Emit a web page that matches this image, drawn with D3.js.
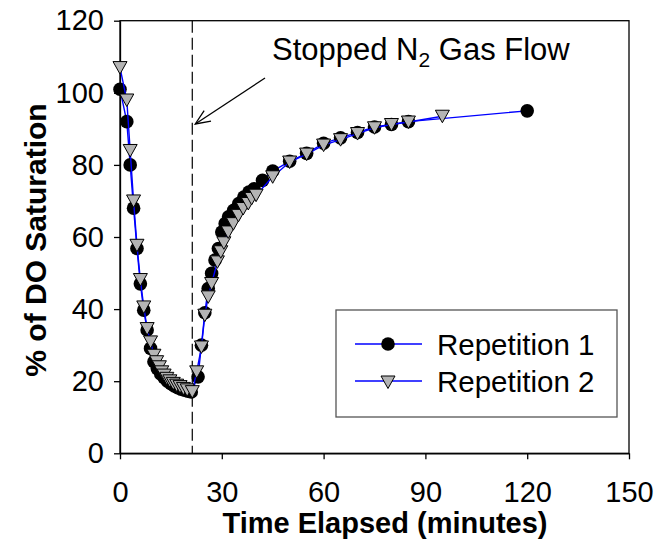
<!DOCTYPE html>
<html>
<head>
<meta charset="utf-8">
<script src="https://cdn.jsdelivr.net/npm/d3@7"></script>
<style>
  body { margin:0; background:#fff; }
  text { font-family: Arial, "Liberation Sans", sans-serif; }
</style>
</head>
<body>
<svg></svg>
<script>
// Repetition 1 (circles)
var rep1Time = [0,2,3,4,5,6,7,8,9,10,11,12,13,14,15,16,17,18,19,20,21,
                23,24,25,26,27,28,29,30,31,32,33.5,35,36.5,38,39.5,42,45,50,55,60,65,70,75,80,85,120];
var rep1Value = [101,92,80,68,56.8,47,39.7,34.2,29.1,25.4,23.5,22,21,20,19.3,18.7,18.2,17.8,17.5,17.2,17,
                 21.2,30,39,45.7,49.9,53.6,56.8,61.4,63.7,65.6,67.4,69.3,71.1,72.5,73.4,75.7,78.3,81,83.2,86,87.5,89,90.5,91.2,92,95];

// Repetition 2 (triangles)
var rep2Time = [0,2,3,4,5,6,7,8,9,10,10.8,11.6,12.3,13,13.8,14.7,15.7,16.7,17.7,18.7,19.8,21.3,
                22.6,24,25,26,27,28.7,29.7,30.6,31.9,33.4,34.9,36.3,37.8,38.8,40.1,45,50,55,60,65,70,75,80,85,95];
var rep2Value = [107,98,84,70,57.7,48.2,40.6,34.6,30.9,27.2,25.4,24,22.6,21.7,20.8,20.1,19.4,18.9,18.5,18,17.6,17.1,
                 22.6,29.5,38.3,43.4,47.1,53.1,55.9,58.4,61.4,63.7,66,67.9,69.3,70.7,71.6,76.7,80.8,83,85.5,87,88.7,90.3,91.2,91.9,93.5];

var xTicks = [0,30,60,90,120,150];
var yTicks = [0,20,40,60,80,100,120];
var stopTime = 21.3;
var seriesNames = ["Repetition 1","Repetition 2"];

var screen = {width:658, height:554};
var margins = {top:20.7, left:120, right:29, bottom:100.7};
var width = screen.width - margins.left - margins.right;
var height = screen.height - margins.top - margins.bottom;

var svg = d3.select("svg")
            .attr("width",screen.width)
            .attr("height",screen.height);

var rep1 = rep1Time.map(function(t,i){ return {t:t, v:rep1Value[i]}; });
var rep2 = rep2Time.map(function(t,i){ return {t:t, v:rep2Value[i]}; });

var xScale = d3.scaleLinear().domain([0,150]).range([0,width]);
var yScale = d3.scaleLinear().domain([0,120]).range([height,0]);

var plotLand = svg.append("g")
                  .attr("transform","translate("+margins.left+","+margins.top+")");

// frame
plotLand.append("rect")
  .attr("x",0).attr("y",0)
  .attr("width",width).attr("height",height)
  .attr("fill","none").attr("stroke","#000").attr("stroke-width",1.3);

// dashed line where gas flow stopped
plotLand.append("line")
  .attr("x1",xScale(stopTime)).attr("x2",xScale(stopTime))
  .attr("y1",0).attr("y2",height)
  .attr("stroke","#000").attr("stroke-width",1.2)
  .attr("stroke-dasharray","12,5");

var xAxis = d3.axisBottom(xScale).tickValues(xTicks).tickSizeInner(6).tickSizeOuter(0).tickPadding(22);
var yAxis = d3.axisLeft(yScale).tickValues(yTicks).tickSizeInner(6).tickSizeOuter(0).tickPadding(10);

var styleAxis = function(g)
{
  g.select(".domain").attr("stroke-width",1.3);
  g.selectAll("line").attr("stroke-width",1.3);
  g.selectAll("text").attr("font-size",29).attr("fill","#000")
    .attr("font-family","Arial, 'Liberation Sans', sans-serif");
};

plotLand.append("g").attr("transform","translate(0,"+height+")").call(xAxis).call(styleAxis);
plotLand.append("g").call(yAxis).call(styleAxis);

var drawLine = d3.line()
  .x(function(d){ return xScale(d.t); })
  .y(function(d){ return yScale(d.v); });

var triangle = "M-7,-6L7,-6L0,6.5Z";

// repetition 1
plotLand.append("path").datum(rep1)
  .attr("d",drawLine).attr("fill","none")
  .attr("stroke","#0000ff").attr("stroke-width",1.4);
plotLand.append("g").selectAll("circle")
  .data(rep1).enter().append("circle")
  .attr("cx",function(d){ return xScale(d.t); })
  .attr("cy",function(d){ return yScale(d.v); })
  .attr("r",6.8).attr("fill","#000");

// repetition 2
plotLand.append("path").datum(rep2)
  .attr("d",drawLine).attr("fill","none")
  .attr("stroke","#0000ff").attr("stroke-width",1.4);
plotLand.append("g").selectAll("path")
  .data(rep2).enter().append("path")
  .attr("d",triangle)
  .attr("transform",function(d){ return "translate("+xScale(d.t)+","+yScale(d.v)+")"; })
  .attr("fill","#b4b4b4").attr("stroke","#000").attr("stroke-width",1);

// annotation
var ann = svg.append("text")
  .attr("x",272).attr("y",60)
  .attr("font-size",31).attr("fill","#000");
ann.append("tspan").text("Stopped N");
ann.append("tspan").attr("font-size",21).attr("dy",7).text("2");
ann.append("tspan").attr("dy",-7).text(" Gas Flow");

var ax0 = 265, ay0 = 78, ax1 = margins.left + xScale(stopTime) + 3, ay1 = 124;
var ang = Math.atan2(ay1-ay0, ax1-ax0);
svg.append("line")
  .attr("x1",ax0).attr("y1",ay0).attr("x2",ax1).attr("y2",ay1)
  .attr("stroke","#000").attr("stroke-width",1.3);
svg.append("path")
  .attr("d","M"+(ax1-16*Math.cos(ang-0.4))+","+(ay1-16*Math.sin(ang-0.4))
          +"L"+ax1+","+ay1
          +"L"+(ax1-16*Math.cos(ang+0.4))+","+(ay1-16*Math.sin(ang+0.4)))
  .attr("fill","none").attr("stroke","#000").attr("stroke-width",1.3);

// legend
var legend = svg.append("g").attr("transform","translate(336,310)");
legend.append("rect")
  .attr("width",281).attr("height",107)
  .attr("fill","#fff").attr("stroke","#555").attr("stroke-width",1.3);

var legendLines = legend.selectAll("g.legendLine")
  .data(seriesNames).enter().append("g")
  .classed("legendLine",true)
  .attr("transform",function(d,i){ return "translate(0,"+(34+i*37)+")"; });

legendLines.append("line")
  .attr("x1",19).attr("x2",86).attr("y1",0).attr("y2",0)
  .attr("stroke","#0000ff").attr("stroke-width",1.4);
legendLines.each(function(d,i){
  var g = d3.select(this);
  if(i==0){
    g.append("circle").attr("cx",52).attr("cy",0).attr("r",6.8).attr("fill","#000");
  } else {
    g.append("path").attr("d",triangle).attr("transform","translate(52,1)")
      .attr("fill","#b4b4b4").attr("stroke","#000").attr("stroke-width",1);
  }
});
legendLines.append("text")
  .attr("x",101).attr("y",10.5)
  .attr("font-size",29.5).attr("fill","#000")
  .text(function(d){ return d; });

// axis titles
svg.append("text")
  .attr("x",385).attr("y",533)
  .attr("text-anchor","middle")
  .attr("font-size",29).attr("font-weight","bold")
  .text("Time Elapsed (minutes)");

svg.append("text")
  .attr("transform","translate(46,240) rotate(-90)")
  .attr("text-anchor","middle")
  .attr("font-size",30).attr("font-weight","bold")
  .text("% of DO Saturation");
</script>
</body>
</html>
